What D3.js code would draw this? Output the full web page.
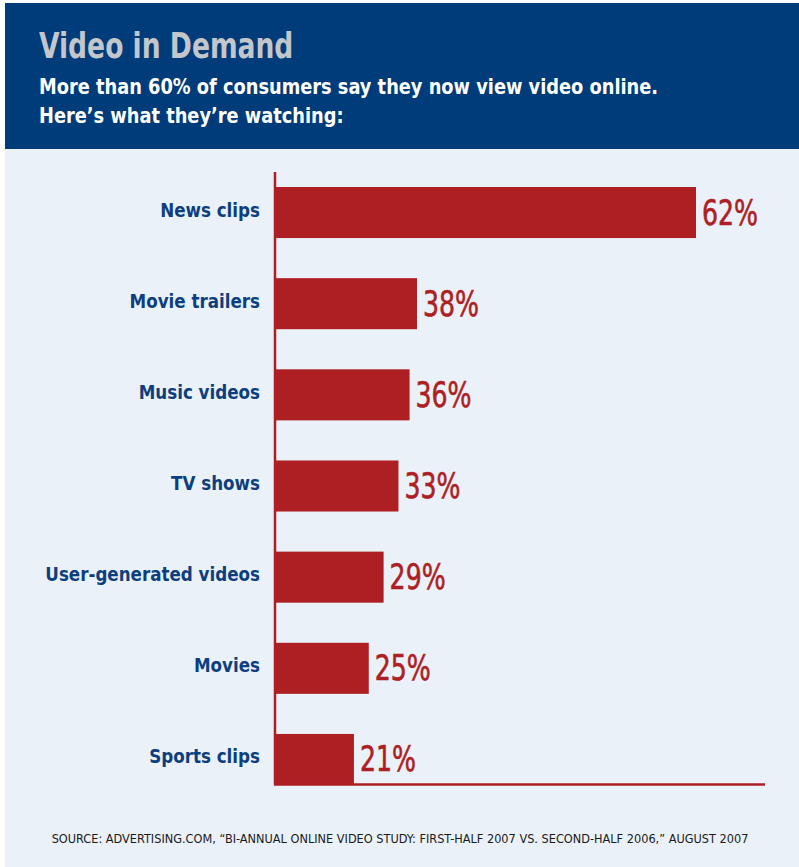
<!DOCTYPE html>
<html lang="en">
<head>
	<script src="https://cdnjs.cloudflare.com/ajax/libs/d3/7.8.5/d3.min.js"></script>
	<style>
		body{
			margin: 0;
			background: #fff;
		}
		.cond{
			font-family: "DejaVu Sans Condensed", "Liberation Sans Narrow", sans-serif;
		}
	</style>
</head>
<body>
<svg id="chart" width="799" height="867"></svg>

<script>

	// data
	const categories = ["News clips", "Movie trailers", "Music videos", "TV shows",
		"User-generated videos", "Movies", "Sports clips"];
	const shares = [62, 38, 36, 33, 29, 25, 21];

	const title = "Video in Demand";
	const subtitle = ["More than 60% of consumers say they now view video online.",
		"Here\u2019s what they\u2019re watching:"];
	const source = "SOURCE: ADVERTISING.COM, \u201cBI-ANNUAL ONLINE VIDEO STUDY: FIRST-HALF 2007 VS. SECOND-HALF 2006,\u201d AUGUST 2007";

	const svg = d3.select('#chart');

	// squeeze text sideways, the original uses a narrow face
	const at = (x, y, sx) => `translate(${x},${y}) scale(${sx},1)`;

	// backgrounds
	svg.append('rect').attr('x', 5).attr('y', 148).attr('width', 794).attr('height', 719)
			.attr('fill', '#eaf1f9');
	svg.append('rect').attr('x', 5).attr('y', 3).attr('width', 794).attr('height', 146)
			.attr('fill', '#003b7a');

	svg.append('text')
			.attr('class', 'cond')
			.attr('transform', at(39, 58, 0.82))
			.attr('font-size', '36px').attr('font-weight', 'bold')
			.attr('fill', '#c3c6cb')
			.text(title);

	svg.selectAll('.sub')
			.data(subtitle)
			.enter()
			.append('text')
			.attr('class', 'cond sub')
			.attr('transform', (d, i) => at(39, 94 + i * 29, 0.9))
			.attr('font-size', '22px').attr('font-weight', 'bold')
			.attr('fill', '#ffffff')
			.text(d => d);

	// the bars are not drawn to one scale in the original: 62% is stretched
	const x0 = 276;
	const xScale = d3.scaleLinear()
			.domain([0, 38, 62])
			.range([0, 141, 420]);

	const yScale = d3.scaleBand()
			.domain(categories)
			.range([187, 785])
			.paddingInner(0.44)
			.paddingOuter(0);

	const barGroup = svg.selectAll('.bar')
			.data(categories)
			.enter()
			.append('g')
			.attr('class', 'bar');

	barGroup.append('rect')
			.attr('x', x0)
			.attr('y', d => yScale(d))
			.attr('width', (d, i) => xScale(shares[i]))
			.attr('height', yScale.bandwidth())
			.attr('fill', '#ae1f24');

	barGroup.append('text')
			.attr('class', 'cond')
			.attr('transform', d => at(260, yScale(d) + yScale.bandwidth() / 2 + 4, 0.93))
			.attr('text-anchor', 'end')
			.attr('font-size', '20px').attr('font-weight', 'bold')
			.attr('fill', '#0d3f7e')
			.text(d => d);

	barGroup.append('text')
			.attr('class', 'cond')
			.attr('transform', (d, i) => at(x0 + xScale(shares[i]) + 6, yScale(d) + yScale.bandwidth() / 2 + 12, 0.8))
			.attr('font-size', '35px')
			.attr('stroke', '#ae1f24').attr('stroke-width', 0.6)
			.attr('fill', '#ae1f24')
			.text((d, i) => shares[i] + '%');

	// axes lines
	svg.append('line')
			.attr('x1', x0 - 1).attr('x2', x0 - 1)
			.attr('y1', 172).attr('y2', 785)
			.attr('stroke', '#ae1f24').attr('stroke-width', 2.5);
	svg.append('line')
			.attr('x1', x0 - 2).attr('x2', 765)
			.attr('y1', 784.5).attr('y2', 784.5)
			.attr('stroke', '#ae1f24').attr('stroke-width', 2.5);

	svg.append('text')
			.attr('class', 'cond')
			.attr('transform', at(400, 843, 0.97))
			.attr('text-anchor', 'middle')
			.attr('font-size', '13px')
			.attr('fill', '#1a1a1a')
			.text(source);

</script>
</body>
</html>
